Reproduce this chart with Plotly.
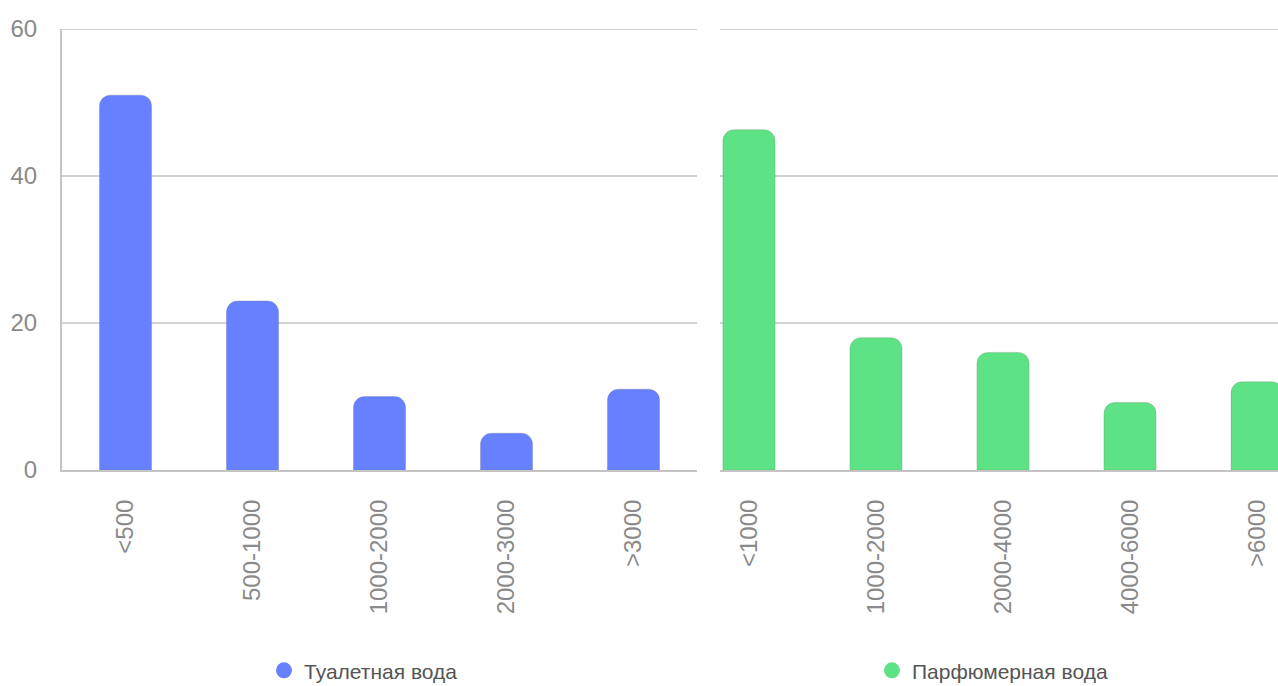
import plotly.graph_objects as go

# Price bands and shares (%) for each product type
edt_bands = ["<500", "500-1000", "1000-2000", "2000-3000", ">3000"]
edt_values = [51, 23, 10, 5, 11]

edp_bands = ["<1000", "1000-2000", "2000-4000", "4000-6000", ">6000"]
edp_values = [46.3, 18, 16, 9.2, 12]

edt_name = "Туалетная вода"
edp_name = "Парфюмерная вода"
y_ticks = [0, 20, 40, 60]

blue = "#6680FF"
green = "#5DE386"
grid = "#D2D2D2"
tick_color = "#8A8A8A"
font_family = "Liberation Sans, Arial, sans-serif"

fig = go.Figure()

fig.add_trace(go.Bar(
    x=edt_bands, y=edt_values, xaxis="x", yaxis="y",
    marker=dict(color=blue, line=dict(color="rgba(120,120,160,0.35)", width=1)),
    width=0.41, showlegend=False, hoverinfo="x+y",
))
fig.add_trace(go.Bar(
    x=edp_bands, y=edp_values, xaxis="x2", yaxis="y2",
    marker=dict(color=green, line=dict(color="rgba(120,150,120,0.35)", width=1)),
    width=0.41, showlegend=False, hoverinfo="x+y",
))

# Round legend markers for each series
fig.add_trace(go.Scatter(
    x=[None], y=[None], mode="markers", name=edt_name, legend="legend",
    marker=dict(color=blue, size=18, symbol="circle"), xaxis="x", yaxis="y",
))
fig.add_trace(go.Scatter(
    x=[None], y=[None], mode="markers", name=edp_name, legend="legend2",
    marker=dict(color=green, size=18, symbol="circle"), xaxis="x2", yaxis="y2",
))

# Top grid line at the upper end of the value range for both panels
for xr, yr in (("x domain", "y"), ("x2 domain", "y2")):
    fig.add_shape(
        type="line", xref=xr, yref=yr, x0=0, x1=1,
        y0=max(y_ticks), y1=max(y_ticks),
        line=dict(color=grid, width=2), layer="below",
    )

axis_font = dict(family=font_family, size=24, color=tick_color)
legend_font = dict(family=font_family, size=21, color="#555555")

fig.update_layout(
    width=1278, height=686,
    margin=dict(l=62, r=0, t=29, b=216, autoexpand=False),
    paper_bgcolor="white", plot_bgcolor="white",
    barcornerradius=11,
    font=dict(family=font_family),
    xaxis=dict(
        domain=[0, 635 / 1216], range=[-0.5, 4.5], type="category",
        tickangle=-90, tickfont=axis_font, ticklabelstandoff=18,
        showgrid=False, showline=True, linecolor="#C4C4C4", linewidth=2,
        ticks="", fixedrange=True,
    ),
    xaxis2=dict(
        domain=[658 / 1216, 1], range=[-0.228, 4.165], type="category",
        tickangle=-90, tickfont=axis_font, ticklabelstandoff=18,
        showgrid=False, showline=True, linecolor="#C4C4C4", linewidth=2,
        ticks="", anchor="y2", fixedrange=True,
    ),
    yaxis=dict(
        range=[0, 60], tickvals=y_ticks, tickfont=axis_font,
        ticklabelstandoff=18, showgrid=True, gridcolor=grid, gridwidth=2,
        showline=True, linecolor="#C4C4C4", linewidth=2,
        zeroline=False, ticks="", fixedrange=True,
    ),
    yaxis2=dict(
        range=[0, 60], tickvals=y_ticks, showticklabels=False,
        showgrid=True, gridcolor=grid, gridwidth=2, showline=False,
        zeroline=False, ticks="", anchor="x2", fixedrange=True,
    ),
    legend=dict(
        x=0.1661, xref="paper", y=-0.455, xanchor="left", yanchor="middle",
        orientation="h", font=legend_font, bgcolor="rgba(0,0,0,0)",
    ),
    legend2=dict(
        x=0.6661, xref="paper", y=-0.455, xanchor="left", yanchor="middle",
        orientation="h", font=legend_font, bgcolor="rgba(0,0,0,0)",
    ),
)

fig.write_html("out.html")
